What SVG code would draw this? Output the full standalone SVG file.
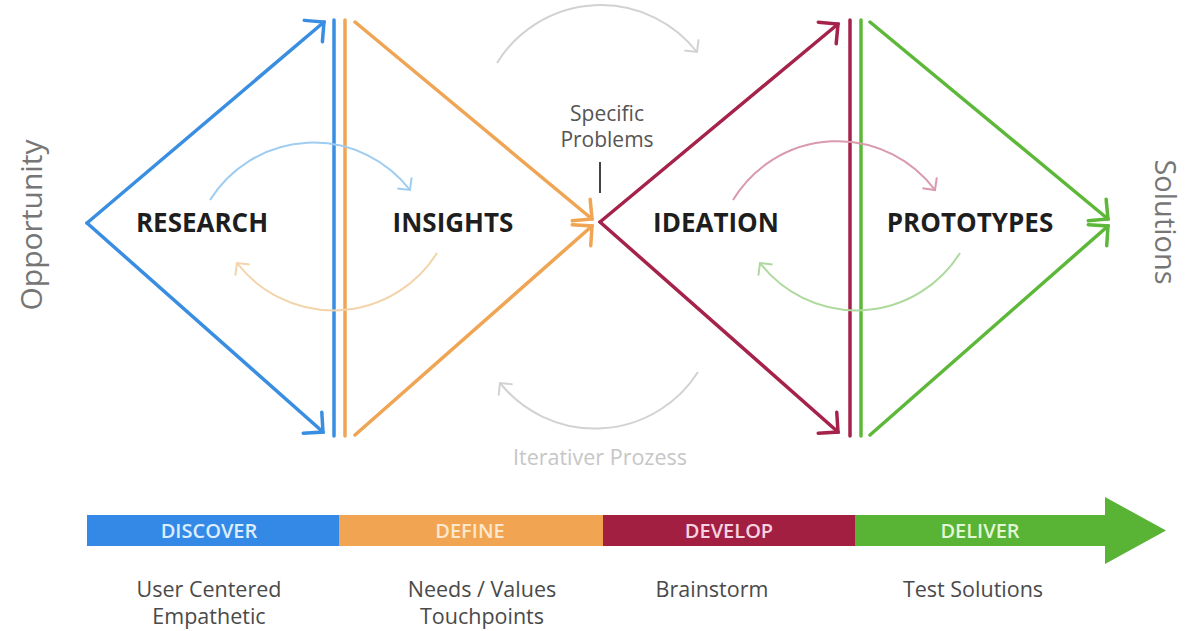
<svg xmlns="http://www.w3.org/2000/svg" width="1186" height="631" viewBox="0 0 1186 631">
<style>
  .main { fill: none; stroke-width: 3.5; stroke-linecap: round; }
  .arc { fill: none; stroke-width: 2; }
  .lbl { font-family: "Open Sans", "Liberation Sans", sans-serif; font-weight: 700; font-size: 26px; fill: #1e1e1e; text-anchor: middle; }
  .side { font-family: "Open Sans", "Liberation Sans", sans-serif; font-size: 30px; fill: #767676; text-anchor: middle; }
  .note { font-family: "Open Sans", "Liberation Sans", sans-serif; font-size: 21px; fill: #555; text-anchor: middle; }
  .bar { font-family: "Open Sans", "Liberation Sans", sans-serif; font-weight: 600; font-size: 20px; text-anchor: middle; }
  .sub { font-family: "Open Sans", "Liberation Sans", sans-serif; font-size: 21.5px; fill: #4a4a4a; text-anchor: middle; }
</style>
<defs>
  <marker id="mBlue" markerUnits="userSpaceOnUse" viewBox="-20 -20 25 40" refX="0" refY="0" markerWidth="25" markerHeight="40" orient="auto" overflow="visible"><path d="M-14,-14 L0,0 L-14,14" fill="none" stroke="#3a8ee2" stroke-width="3.5" stroke-linecap="round"/></marker>
  <marker id="mOrange" markerUnits="userSpaceOnUse" viewBox="-20 -20 25 40" refX="0" refY="0" markerWidth="25" markerHeight="40" orient="auto" overflow="visible"><path d="M-14,-14 L0,0 L-14,14" fill="none" stroke="#efa553" stroke-width="3.5" stroke-linecap="round"/></marker>
  <marker id="mCrimson" markerUnits="userSpaceOnUse" viewBox="-20 -20 25 40" refX="0" refY="0" markerWidth="25" markerHeight="40" orient="auto" overflow="visible"><path d="M-14,-14 L0,0 L-14,14" fill="none" stroke="#a5234b" stroke-width="3.5" stroke-linecap="round"/></marker>
  <marker id="mGreen" markerUnits="userSpaceOnUse" viewBox="-20 -20 25 40" refX="0" refY="0" markerWidth="25" markerHeight="40" orient="auto" overflow="visible"><path d="M-14,-14 L0,0 L-14,14" fill="none" stroke="#5db83a" stroke-width="3.5" stroke-linecap="round"/></marker>
  <marker id="aBlue" markerUnits="userSpaceOnUse" viewBox="-15 -15 20 30" refX="0" refY="0" markerWidth="20" markerHeight="30" orient="auto" overflow="visible"><path d="M-9,-9 L0,0 L-9,9" fill="none" stroke="#9fcdf2" stroke-width="2"/></marker>
  <marker id="aOrange" markerUnits="userSpaceOnUse" viewBox="-15 -15 20 30" refX="0" refY="0" markerWidth="20" markerHeight="30" orient="auto" overflow="visible"><path d="M-9,-9 L0,0 L-9,9" fill="none" stroke="#f3d3aa" stroke-width="2"/></marker>
  <marker id="aGray" markerUnits="userSpaceOnUse" viewBox="-15 -15 20 30" refX="0" refY="0" markerWidth="20" markerHeight="30" orient="auto" overflow="visible"><path d="M-9,-9 L0,0 L-9,9" fill="none" stroke="#d2d2d2" stroke-width="2"/></marker>
  <marker id="aCrimson" markerUnits="userSpaceOnUse" viewBox="-15 -15 20 30" refX="0" refY="0" markerWidth="20" markerHeight="30" orient="auto" overflow="visible"><path d="M-9,-9 L0,0 L-9,9" fill="none" stroke="#d99aae" stroke-width="2"/></marker>
  <marker id="aGreen" markerUnits="userSpaceOnUse" viewBox="-15 -15 20 30" refX="0" refY="0" markerWidth="20" markerHeight="30" orient="auto" overflow="visible"><path d="M-9,-9 L0,0 L-9,9" fill="none" stroke="#acd99c" stroke-width="2"/></marker>
</defs>
<rect width="1186" height="631" fill="#ffffff"/>

<g id="connectors">
  <line class="main" stroke="#3a8ee2" x1="87" y1="223" x2="324" y2="22" marker-end="url(#mBlue)"/>
  <line class="main" stroke="#3a8ee2" x1="87" y1="223" x2="323" y2="432" marker-end="url(#mBlue)"/>
  <line class="main" stroke="#3a8ee2" x1="334" y1="20" x2="334" y2="436"/>
  <line class="main" stroke="#efa553" x1="345" y1="20" x2="345" y2="436"/>
  <line class="main" stroke="#efa553" x1="355" y1="22" x2="592" y2="219" marker-end="url(#mOrange)"/>
  <line class="main" stroke="#efa553" x1="355" y1="435" x2="592" y2="226" marker-end="url(#mOrange)"/>
  <line class="main" stroke="#a5234b" x1="600" y1="222" x2="838" y2="24" marker-end="url(#mCrimson)"/>
  <line class="main" stroke="#a5234b" x1="600" y1="222" x2="838" y2="432" marker-end="url(#mCrimson)"/>
  <line class="main" stroke="#a5234b" x1="850" y1="20" x2="850" y2="436"/>
  <line class="main" stroke="#5db83a" x1="861" y1="20" x2="861" y2="436"/>
  <line class="main" stroke="#5db83a" x1="870" y1="22" x2="1108" y2="219" marker-end="url(#mGreen)"/>
  <line class="main" stroke="#5db83a" x1="870" y1="435" x2="1108" y2="226" marker-end="url(#mGreen)"/>

  <path class="arc" stroke="#9fcdf2" d="M210,200 A122,122 0 0 1 410,190" marker-end="url(#aBlue)"/>
  <path class="arc" stroke="#f3d3aa" d="M437,253 A122,122 0 0 1 237,263" marker-end="url(#aOrange)"/>
  <path class="arc" stroke="#d2d2d2" d="M497,63 A122,122 0 0 1 697,52" marker-end="url(#aGray)"/>
  <path class="arc" stroke="#d2d2d2" d="M698,372 A122,122 0 0 1 500,383" marker-end="url(#aGray)"/>
  <path class="arc" stroke="#d99aae" d="M733,200 A122,122 0 0 1 935,190" marker-end="url(#aCrimson)"/>
  <path class="arc" stroke="#acd99c" d="M960,253 A122,122 0 0 1 760,263" marker-end="url(#aGreen)"/>

  <line x1="600" y1="162" x2="600" y2="193" stroke="#444" stroke-width="2"/>
</g>

<g id="research"><text class="lbl" x="202" y="232">RESEARCH</text></g>
<g id="insights"><text class="lbl" x="453" y="232">INSIGHTS</text></g>
<g id="ideation"><text class="lbl" x="716" y="232">IDEATION</text></g>
<g id="prototypes"><text class="lbl" x="970" y="232">PROTOTYPES</text></g>

<g id="specific-problems">
  <text class="note" x="607" y="121">Specific</text>
  <text class="note" x="607" y="147">Problems</text>
</g>
<g id="iterativer"><text class="note" x="600" y="465" style="fill:#c6c6c6;font-size:21.5px">Iterativer Prozess</text></g>

<g id="opportunity"><text class="side" transform="translate(42,225) rotate(-90)">Opportunity</text></g>
<g id="solutions"><text class="side" transform="translate(1155,222) rotate(90)" style="font-size:29px">Solutions</text></g>

<g id="phase-bar">
  <rect x="87" y="515" width="253" height="31" fill="#3589e6"/>
  <rect x="339" y="515" width="265" height="31" fill="#f1a452"/>
  <rect x="603" y="515" width="253" height="31" fill="#a31f41"/>
  <path d="M855,515 L1105,515 L1105,497 L1166,530.5 L1105,564 L1105,546 L855,546 Z" fill="#59b334"/>
  <text class="bar" x="209" y="538" fill="#dcedff">DISCOVER</text>
  <text class="bar" x="470" y="538" fill="#fde7cc">DEFINE</text>
  <text class="bar" x="729" y="538" fill="#f6d3e0">DEVELOP</text>
  <text class="bar" x="980" y="538" fill="#e3f6d6">DELIVER</text>
</g>

<g id="discover-notes">
  <text class="sub" x="209" y="597">User Centered</text>
  <text class="sub" x="209" y="624">Empathetic</text>
</g>
<g id="define-notes">
  <text class="sub" x="482" y="597">Needs / Values</text>
  <text class="sub" x="482" y="624">Touchpoints</text>
</g>
<g id="develop-notes"><text class="sub" x="712" y="597">Brainstorm</text></g>
<g id="deliver-notes"><text class="sub" x="973" y="597">Test Solutions</text></g>
</svg>
